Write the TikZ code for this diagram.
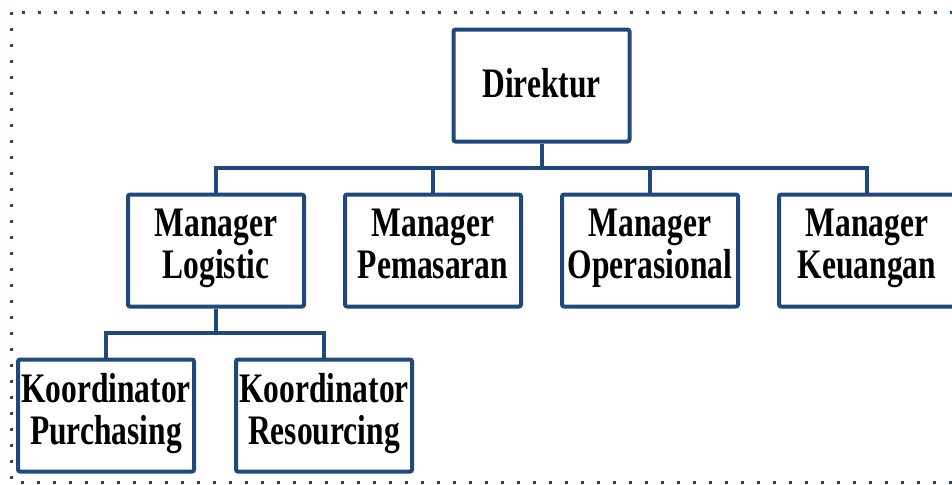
\documentclass[tikz,border=0pt]{standalone}
\usepackage{fontspec}
\setmainfont{Liberation Serif}[FakeStretch=0.75]
\usetikzlibrary{positioning, calc}
\definecolor{boxblue}{RGB}{31,73,125}

\begin{document}
\begin{tikzpicture}[x=0.5pt,y=-0.5pt,
    box/.style={draw=boxblue,line width=2pt,rounded corners=1pt,minimum width=88pt,minimum height=56pt,align=center,inner sep=0pt,font=\bfseries\fontsize{21}{21}\selectfont,
        execute at begin node={\rule{0pt}{18.7pt}},execute at end node={\strut}},
    link/.style={draw=boxblue,line width=2pt}]
    \useasboundingbox (0,0) rectangle (952,484);
    \clip (0,0) rectangle (952,484);
    % dotted frame
    \draw[boxblue,line width=1.5pt,dash pattern=on 1.5pt off 6.5pt] (11,12) rectangle (980,482);

    \node[box] (log) at (216,250.5) {Manager\\Logistic};
    \node[box,right=18.5pt of log] (pem) {Manager\\Pemasaran};
    \node[box,right=18.5pt of pem] (ops) {Manager\\Operasional};
    \node[box,right=18.5pt of ops] (keu) {Manager\\Keuangan};
    \coordinate (top) at ($(pem.north)!.5!(ops.north)$);
    \node[box,above=24.5pt of top] (dir) {Direktur};
    \node[box,below=24.5pt of log,xshift=-55pt] (pur) {Koordinator\\Purchasing};
    \node[box,right=19pt of pur] (res) {Koordinator\\Resourcing};

    \coordinate (busA) at ($(dir.south)!.5!(top)$);
    \draw[link] (dir.south) -- (busA);
    \foreach \m in {log,pem,ops,keu} {
        \draw[link] (busA) -| (\m.north);
    }
    \coordinate (busB) at ($(log.south)!.5!(log.south |- pur.north)$);
    \draw[link] (log.south) -- (busB);
    \foreach \k in {pur,res} {
        \draw[link] (busB) -| (\k.north);
    }
\end{tikzpicture}
\end{document}
